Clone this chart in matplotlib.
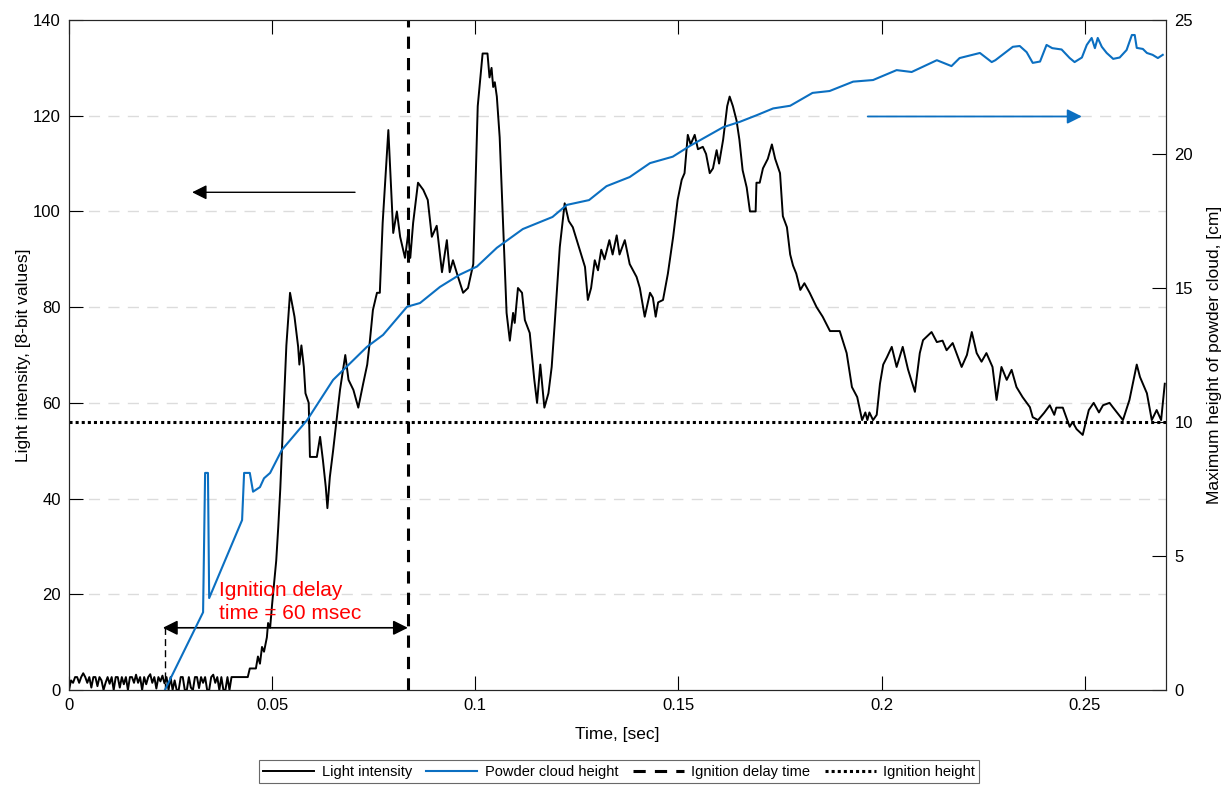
import matplotlib
matplotlib.use('Agg')
from matplotlib import pyplot as plt
from matplotlib.lines import Line2D

plt.rcParams['font.family'] = ['Liberation Sans', 'DejaVu Sans']

# light intensity (left axis)
light_t = [0.0000, 0.0005, 0.0010, 0.0015, 0.0020, 0.0025, 0.0030, 0.0035, 0.0040, 0.0045,
           0.0050, 0.0055, 0.0060, 0.0065, 0.0070, 0.0075, 0.0080, 0.0085, 0.0090, 0.0095,
           0.0100, 0.0105, 0.0110, 0.0115, 0.0120, 0.0125, 0.0130, 0.0135, 0.0140, 0.0145,
           0.0150, 0.0155, 0.0160, 0.0165, 0.0170, 0.0175, 0.0180, 0.0185, 0.0190, 0.0195,
           0.0200, 0.0205, 0.0210, 0.0215, 0.0220, 0.0225, 0.0230, 0.0235, 0.0240, 0.0245,
           0.0250, 0.0255, 0.0260, 0.0265, 0.0270, 0.0275, 0.0280, 0.0285, 0.0290, 0.0295,
           0.0300, 0.0305, 0.0310, 0.0315, 0.0320, 0.0325, 0.0330, 0.0335, 0.0340, 0.0345,
           0.0350, 0.0355, 0.0360, 0.0365, 0.0370, 0.0375, 0.0380, 0.0385, 0.0390, 0.0395,
           0.0400, 0.0405, 0.0440, 0.0445, 0.0460, 0.0465, 0.0470, 0.0475, 0.0480, 0.0487,
           0.0490, 0.0495, 0.0500, 0.0510, 0.0515, 0.0520, 0.0527, 0.0535, 0.0544, 0.0555,
           0.0564, 0.0567, 0.0572, 0.0578, 0.0582, 0.0590, 0.0593, 0.0610, 0.0618, 0.0625,
           0.0632, 0.0636, 0.0642, 0.0650, 0.0667, 0.0680, 0.0688, 0.0700, 0.0712, 0.0724,
           0.0734, 0.0740, 0.0748, 0.0758, 0.0765, 0.0772, 0.0786, 0.0798, 0.0807, 0.0815,
           0.0827, 0.0835, 0.0840, 0.0847, 0.0859, 0.0872, 0.0883, 0.0893, 0.0905, 0.0918,
           0.0930, 0.0937, 0.0945, 0.0955, 0.0970, 0.0982, 0.0995, 0.1006, 0.1018, 0.1030,
           0.1035, 0.1040, 0.1044, 0.1048, 0.1053, 0.1060, 0.1068, 0.1077, 0.1085, 0.1093,
           0.1097, 0.1105, 0.1115, 0.1122, 0.1134, 0.1145, 0.1152, 0.1160, 0.1170, 0.1180,
           0.1188, 0.1195, 0.1208, 0.1220, 0.1230, 0.1240, 0.1257, 0.1270, 0.1277, 0.1285,
           0.1294, 0.1302, 0.1310, 0.1318, 0.1330, 0.1338, 0.1348, 0.1355, 0.1368, 0.1380,
           0.1397, 0.1405, 0.1417, 0.1430, 0.1437, 0.1444, 0.1450, 0.1462, 0.1474, 0.1487,
           0.1498, 0.1508, 0.1515, 0.1523, 0.1530, 0.1540, 0.1548, 0.1560, 0.1568, 0.1577,
           0.1585, 0.1594, 0.1600, 0.1610, 0.1620, 0.1626, 0.1634, 0.1643, 0.1650, 0.1658,
           0.1668, 0.1676, 0.1690, 0.1692, 0.1700, 0.1708, 0.1720, 0.1730, 0.1738, 0.1750,
           0.1757, 0.1767, 0.1775, 0.1782, 0.1790, 0.1800, 0.1810, 0.1823, 0.1840, 0.1855,
           0.1873, 0.1897, 0.1914, 0.1927, 0.1940, 0.1952, 0.1960, 0.1965, 0.1970, 0.1979,
           0.1988, 0.1996, 0.2004, 0.2013, 0.2025, 0.2037, 0.2052, 0.2065, 0.2082, 0.2094,
           0.2102, 0.2123, 0.2136, 0.2150, 0.2160, 0.2175, 0.2197, 0.2210, 0.2222, 0.2234,
           0.2246, 0.2258, 0.2273, 0.2283, 0.2295, 0.2308, 0.2320, 0.2332, 0.2347, 0.2365,
           0.2372, 0.2385, 0.2400, 0.2414, 0.2425, 0.2430, 0.2446, 0.2463, 0.2470, 0.2480,
           0.2495, 0.2510, 0.2522, 0.2535, 0.2545, 0.2561, 0.2570, 0.2594, 0.2610, 0.2628,
           0.2636, 0.2653, 0.2665, 0.2677, 0.2688, 0.2697]
light_v = [0, 2, 1.5, 2.7, 2.7, 1.5, 2.7, 3.5, 2.7, 1.5,
           2.7, 0.5, 2.7, 2.7, 0.8, 2.7, 2.0, 0, 1.5, 2.7,
           1.3, 2.7, 0, 2.7, 2.7, 0.5, 2.7, 1.2, 2.7, 0,
           2.7, 2.7, 1.5, 3.2, 1.5, 2.7, 0, 2.7, 1.2, 2.7,
           3.3, 1.5, 2.7, 0.3, 2.7, 1.8, 3.0, 1.4, 2.7, 0,
           2.7, 0, 2, 0, 0, 2.7, 2.7, 0, 0, 2.7,
           0.5, 0, 2.7, 2.7, 0.4, 2.7, 1.5, 2.7, 0, 0,
           2.7, 3.2, 1.5, 2.7, 0, 2.7, 0, 0, 2.7, 0,
           2.7, 2.7, 2.7, 4.5, 4.5, 7, 5.5, 9, 8, 11,
           14, 13, 18, 27, 34, 42, 56, 72, 83, 78,
           71.7, 68, 72, 67.5, 62, 60, 48.7, 48.7, 52.9, 48,
           42.4, 38, 44.5, 50, 62.7, 70, 64.8, 62.7, 59, 64,
           68, 72.5, 79.4, 83, 83, 97.6, 117, 95.5, 100, 94.7,
           90.3, 95.5, 90.3, 97.6, 106, 104.5, 102.4, 94.7, 97, 87.3,
           94, 87.3, 89.8, 87, 83, 84, 89, 122, 133, 133,
           128, 130, 126, 127, 124, 115.5, 98, 78.8, 73, 78.8,
           76.7, 84, 83, 77.3, 74.6, 65, 60, 68, 59, 62,
           67.5, 76, 92.6, 101.7, 98, 96.7, 92, 88.4, 81.5, 84,
           89.8, 87.7, 92, 90, 94, 91, 95, 91, 94, 89,
           86.3, 84, 78, 83, 82, 78, 81, 81.5, 87, 94.7,
           102.4, 106.6, 108, 116, 114, 116, 113, 113.5, 112, 108,
           109, 112.8, 110, 115, 122, 124, 122, 119, 115, 108.6,
           105, 100, 100, 106, 106, 109, 111, 114, 111, 108,
           99, 96.7, 91, 88.7, 87, 83.6, 85, 83, 80, 78,
           75, 75, 70.4, 63.3, 61.2, 56.4, 58, 56.4, 58, 56.4,
           57.5, 64, 68, 69.5, 71.7, 67.5, 71.7, 67, 62.3, 70.4,
           73.1, 74.8, 72.7, 73, 71, 72.5, 67.5, 70, 74.8, 70.4,
           68.6, 70.4, 67.5, 60.6, 67.5, 64.8, 66.9, 63.3, 61.2, 59.1,
           57, 56.4, 57.9, 59.5, 57.5, 59, 59, 55, 56, 54.5,
           53.3, 58.5, 60, 58, 59.5, 60, 59, 56.4, 60.6, 68,
           65.4, 62, 56.4, 58.5, 56.4, 64]

# powder cloud height (right axis)
cloud_t = [0.0236, 0.0330, 0.0335, 0.0342, 0.0345, 0.0426, 0.0431, 0.0445, 0.0453, 0.0470,
           0.0480, 0.0495, 0.0524, 0.0586, 0.0650, 0.0733, 0.0773, 0.0832, 0.0864, 0.0913,
           0.0962, 0.1004, 0.1053, 0.1117, 0.1190, 0.1225, 0.1280, 0.1323, 0.1380, 0.1430,
           0.1486, 0.1528, 0.1610, 0.1651, 0.1693, 0.1733, 0.1775, 0.1830, 0.1872, 0.1930,
           0.1979, 0.2037, 0.2074, 0.2136, 0.2172, 0.2192, 0.2242, 0.2271, 0.2280, 0.2323,
           0.2340, 0.2357, 0.2372, 0.2390, 0.2406, 0.2420, 0.2443, 0.2463, 0.2475, 0.2493,
           0.2505, 0.2517, 0.2525, 0.2532, 0.2542, 0.2554, 0.2570, 0.2586, 0.2603, 0.2616,
           0.2623, 0.2628, 0.2643, 0.2653, 0.2667, 0.2680, 0.2692]
cloud_h = [0, 2.9, 8.1, 8.1, 3.43, 6.34, 8.1, 8.1, 7.4, 7.57,
           7.9, 8.1, 8.96, 10.07, 11.57, 12.8, 13.25, 14.3, 14.44, 15.04,
           15.5, 15.8, 16.5, 17.2, 17.65, 18.1, 18.28, 18.8, 19.14, 19.66,
           19.9, 20.3, 21.0, 21.2, 21.45, 21.7, 21.8, 22.28, 22.35, 22.7,
           22.76, 23.13, 23.06, 23.5, 23.28, 23.58, 23.77, 23.43, 23.5, 24.0,
           24.03, 23.8, 23.4, 23.45, 24.07, 23.95, 23.9, 23.58, 23.43, 23.6,
           24.07, 24.33, 23.95, 24.33, 24.0, 23.77, 23.55, 23.6, 23.88, 24.44,
           24.44, 23.96, 23.92, 23.77, 23.7, 23.58, 23.7]

ignition_time = 0.0834
ignition_level = 56
start_time = 0.0236
x_ticks = [0, 0.05, 0.1, 0.15, 0.2, 0.25]
x_labels = ['0', '0.05', '0.1', '0.15', '0.2', '0.25']
left_ticks = [0, 20, 40, 60, 80, 100, 120, 140]
right_ticks = [0, 5, 10, 15, 20, 25]

blue = '#0b6fc1'

fig = plt.figure(figsize=(12.26, 7.85), dpi=100)
ax = fig.add_axes([69 / 1226, 1 - 690 / 785, (1166 - 69) / 1226, 670 / 785])
ax2 = ax.twinx()

for g in left_ticks[1:-1]:
    ax.axhline(g, color='#dcdcdc', lw=1, dashes=(8, 6), zorder=0)

ax.plot(light_t, light_v, color='black', lw=1.4)
ax2.plot(cloud_t, cloud_h, color=blue, lw=1.5)
ax.axvline(ignition_time, color='black', lw=2.2, dashes=(4, 3))
ax.axhline(ignition_level, color='black', lw=2.2, dashes=(1, 1))

# annotations
ax.plot([start_time, start_time], [0, 13], color='black', lw=1, dashes=(5, 3))
ax.annotate('', xy=(0.0231, 13), xytext=(ignition_time, 13),
            arrowprops=dict(arrowstyle='<|-|>', color='black', lw=1.2, mutation_scale=22,
                            shrinkA=0, shrinkB=0))
ax.text(0.0369, 18.4, 'Ignition delay\ntime = 60 msec', color='red', fontsize=15,
        ha='left', va='center', linespacing=1.25)
ax.annotate('', xy=(0.0303, 104), xytext=(0.0704, 104),
            arrowprops=dict(arrowstyle='-|>', color='black', lw=1, mutation_scale=22,
                            shrinkA=0, shrinkB=0))
ax2.annotate('', xy=(0.2493, 21.4), xytext=(0.1966, 21.4),
             arrowprops=dict(arrowstyle='-|>', color=blue, lw=1.3, mutation_scale=22,
                             shrinkA=0, shrinkB=0))

ax.set_xlim(0, 0.27)
ax.set_ylim(0, 140)
ax2.set_ylim(0, 25)
ax.set_xticks(x_ticks)
ax.set_xticklabels(x_labels)
ax.set_yticks(left_ticks)
ax2.set_yticks(right_ticks)
ax.tick_params(direction='in', length=10, labelsize=12, top=True, width=0.8, pad=6)
ax2.tick_params(direction='in', length=10, labelsize=12, width=0.8, pad=6)
for a in (ax, ax2):
    for s in a.spines.values():
        s.set_color('#262626')
        s.set_linewidth(0.8)

ax.set_xlabel('Time, [sec]', fontsize=12.5, labelpad=10)
ax.set_ylabel('Light intensity, [8-bit values]', fontsize=12.5, labelpad=1)
ax2.set_ylabel('Maximum height of powder cloud, [cm]', fontsize=12.5, labelpad=10)

handles = [Line2D([], [], color='black', lw=1.4),
           Line2D([], [], color=blue, lw=1.5),
           Line2D([], [], color='black', lw=2.2, dashes=(4, 3)),
           Line2D([], [], color='black', lw=2.2, dashes=(1, 1))]
names = ['Light intensity', 'Powder cloud height', 'Ignition delay time', 'Ignition height']
leg = fig.legend(handles, names, loc='center', bbox_to_anchor=(0.505, 0.017), ncol=4,
                 fontsize=10.5, frameon=True, fancybox=False, handlelength=3.5,
                 columnspacing=1.0, handletextpad=0.5, borderpad=0.3, borderaxespad=0)
leg.get_frame().set_edgecolor('#444444')
leg.get_frame().set_linewidth(0.8)

fig.savefig('out.png', dpi=100)
